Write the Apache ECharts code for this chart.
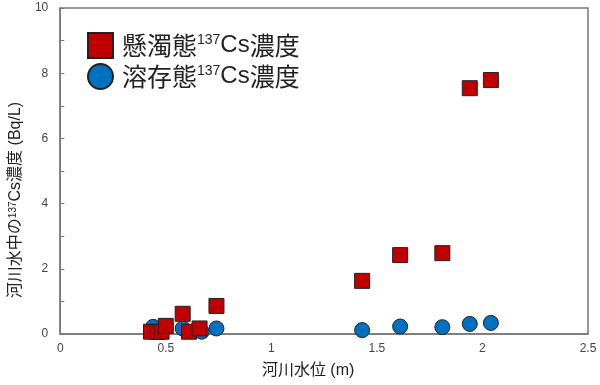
<!DOCTYPE html>
<html><head><meta charset="utf-8">
<script src="https://cdn.jsdelivr.net/npm/echarts@6/dist/echarts.min.js"></script>
<style>html,body{margin:0;padding:0;background:#fff}#c{width:600px;height:385px}</style>
</head><body><div id="c"></div>
<script>
const xTicks = [0, 0.5, 1, 1.5, 2, 2.5];
const yTicks = [0, 2, 4, 6, 8, 10];
const ssLevel = [0.43, 0.46, 0.48, 0.50, 0.58, 0.61, 0.66, 0.74, 1.43, 1.61, 1.81, 1.94, 2.04];
const ssConc  = [0.07, 0.06, 0.07, 0.25, 0.62, 0.07, 0.17, 0.86, 1.63, 2.42, 2.48, 7.54, 7.79];
const dLevel  = [0.44, 0.58, 0.67, 0.74, 1.43, 1.61, 1.81, 1.94, 2.04];
const dConc   = [0.22, 0.17, 0.07, 0.17, 0.12, 0.23, 0.21, 0.31, 0.34];
const seriesNames = ['懸濁態137Cs濃度', '溶存態137Cs濃度'];

const FONT = '"Liberation Sans", "Noto Sans CJK JP", sans-serif';
const CJK = '"Noto Sans CJK JP", sans-serif';
const chart = echarts.init(document.getElementById('c'));
chart.setOption({
  animation: false,
  textStyle: { fontFamily: FONT },
  grid: { left: 57, right: 12, top: 8, bottom: 51, show: true, borderColor: '#777', borderWidth: 1.5 },
  legend: {
    left: 87, top: 32, padding: 0, orient: 'vertical', itemGap: 4,
    itemWidth: 25, itemHeight: 25,
    data: [
      { name: seriesNames[0], icon: 'rect' },
      { name: seriesNames[1], icon: 'circle' }
    ],
    formatter: n => '{g|}{c|' + n.slice(0, 3) + '}{sup|137}{a|Cs}{c|' + n.slice(-2) + '}',
    textStyle: {
      fontFamily: FONT, fontSize: 24, color: '#222', lineHeight: 25,
      rich: {
        g: { width: 4, lineHeight: 25 },
        c: { fontSize: 25, fontFamily: CJK, color: '#222', lineHeight: 25 },
        a: { fontSize: 24, fontFamily: FONT, color: '#222', lineHeight: 25 },
        sup: { fontSize: 14, fontFamily: FONT, color: '#222', lineHeight: 25, verticalAlign: 'top', padding: [0, 0, 10, 0] }
      }
    }
  },
  xAxis: {
    type: 'value', min: xTicks[0], max: xTicks[xTicks.length - 1], interval: 0.5,
    name: '河川水位 (m)', nameLocation: 'middle', nameGap: 29,
    nameTextStyle: { fontSize: 16, color: '#222', fontFamily: FONT, padding: [0, 32, 0, 0] },
    axisLine: { show: true, lineStyle: { color: '#777', width: 1.5 } },
    axisTick: { show: false },
    splitLine: { show: false },
    axisLabel: { fontSize: 12, color: '#444', margin: 9 }
  },
  yAxis: [
    {
      type: 'value', min: yTicks[0], max: yTicks[yTicks.length - 1], interval: 2,
      name: '{a|河川水中の}{sup|137}{a|Cs濃度 (Bq/L)}', nameLocation: 'middle', nameGap: 28,
      nameTextStyle: {
        fontSize: 16, color: '#222', fontFamily: FONT, padding: [0, 58, 0, 0],
        rich: {
          a: { fontSize: 16, color: '#222', fontFamily: FONT },
          sup: { fontSize: 10, color: '#222', fontFamily: FONT, verticalAlign: 'top', padding: [0, 0, 6, 0] }
        }
      },
      axisLine: { show: true, lineStyle: { color: '#777', width: 1.5 } },
      axisTick: { show: true, inside: true, length: 4, lineStyle: { color: '#777' } },
      splitLine: { show: false },
      axisLabel: { fontSize: 12, color: '#444', margin: 12 }
    },
    {
      type: 'value', position: 'left', min: yTicks[0], max: yTicks[yTicks.length - 1], interval: 1,
      axisLine: { show: false },
      axisTick: { show: true, inside: true, length: 4, lineStyle: { color: '#777' } },
      splitLine: { show: false },
      axisLabel: { show: false }
    }
  ],
  series: [
    {
      name: seriesNames[0], type: 'scatter', symbol: 'rect', symbolSize: 15, z: 3,
      itemStyle: { color: '#C00000', opacity: 1, borderColor: '#222', borderWidth: 1 },
      data: ssLevel.map((x, i) => [x, ssConc[i]])
    },
    {
      name: seriesNames[1], type: 'scatter', symbol: 'circle', symbolSize: 15, z: 2,
      itemStyle: { color: '#0070C0', opacity: 1, borderColor: '#222', borderWidth: 1 },
      data: dLevel.map((x, i) => [x, dConc[i]])
    }
  ]
});
</script></body></html>
